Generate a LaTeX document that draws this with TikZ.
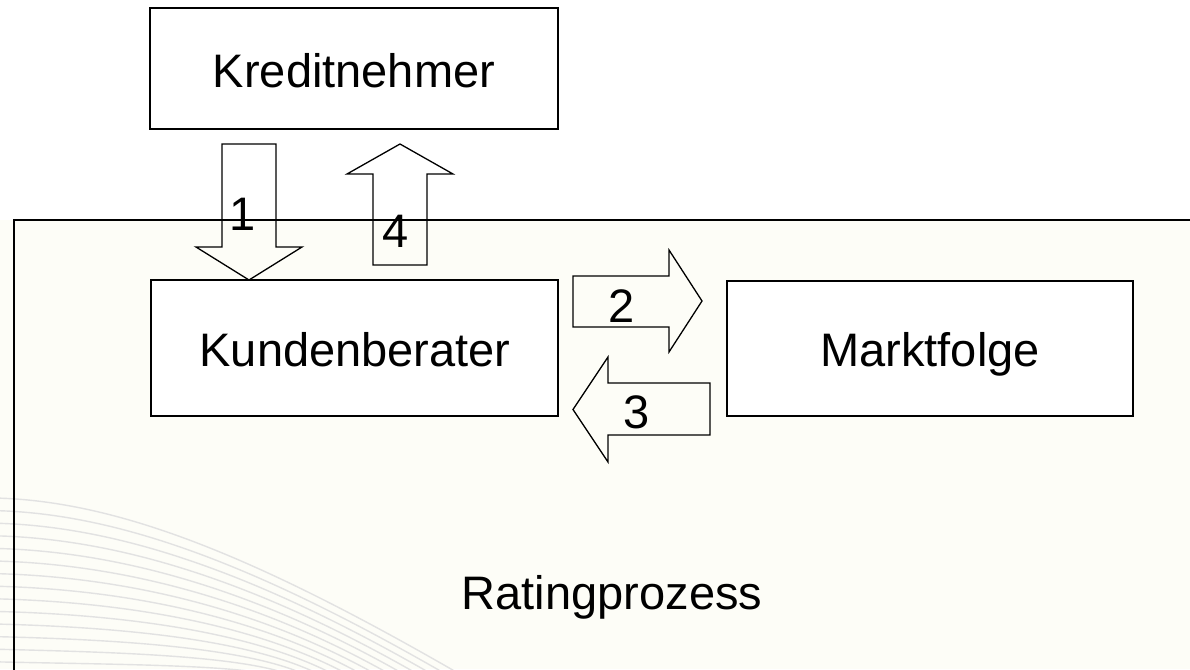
\documentclass[tikz,border=0pt]{standalone}
\usepackage{fontspec}
\setmainfont{Liberation Sans}
\definecolor{cream}{RGB}{253,253,247}
\definecolor{wave}{RGB}{226,226,226}
\begin{document}
\begin{tikzpicture}[x=1pt,y=-1pt,
  box/.style={draw=black,line width=1.6pt,fill=white},
  blockarrow/.style={draw=black,line width=1.3pt,line join=miter},
  txt/.style={font=\fontsize{47}{56}\selectfont,anchor=base,inner sep=0pt},
  wavy/.style={draw=wave,line width=1.4pt}]
\useasboundingbox (0,0) rectangle (1190,669);
\begin{scope}
\clip (0,0) rectangle (1190,669);
% background
\fill[white] (0,0) rectangle (1190,669);
\fill[cream] (0,220) rectangle (1190,669);
% faint decorative curves
\foreach \i in {0,...,13}{
  \pgfmathsetmacro{\ya}{498+\i*12.6}
  \pgfmathsetmacro{\xe}{470-\i*14}
  \pgfmathsetmacro{\cy}{\ya+(669-\ya)*0.35}
  \draw[wavy] (-5,\ya) .. controls (120,\ya+3) and (260,\cy) .. (\xe,680);
}
% process frame
\draw[line width=1.6pt] (14,700) |- (1200,220);
\end{scope}
% boxes
\draw[box] (150,8) rectangle (558,129);
\node[txt] (kn) at (354,87) {Kreditnehmer};
\draw[box] (151,280) rectangle (558,416);
\node[txt] (kb) at (355,366) {Kundenberater};
\draw[box] (727,281) rectangle (1133,416);
\node[txt] (mf) at (930,366) {Marktfolge};
\node[txt] (rp) at (612,609) {Ratingprozess};
% arrow 1 (down)
\draw[blockarrow] (222,144) -- (276,144) -- (276,247) -- (302,247) -- (249,280) -- (196,247) -- (222,247) -- cycle;
\node[txt] (l1) at (243,230) {1};
% arrow 4 (up)
\draw[blockarrow] (373,265) -- (373,174) -- (347,174) -- (400,144) -- (453,174) -- (427,174) -- (427,265) -- cycle;
\node[txt] (l4) at (396,247) {4};
% arrow 2 (right)
\draw[blockarrow] (573,276) -- (669,276) -- (669,250) -- (702,301) -- (669,352) -- (669,327) -- (573,327) -- cycle;
\node[txt] (l2) at (622,322) {2};
% arrow 3 (left)
\draw[blockarrow] (710,383) -- (608,383) -- (608,357) -- (573,409.5) -- (608,462) -- (608,435) -- (710,435) -- cycle;
\node[txt] (l3) at (637,428) {3};
\end{tikzpicture}
\end{document}
